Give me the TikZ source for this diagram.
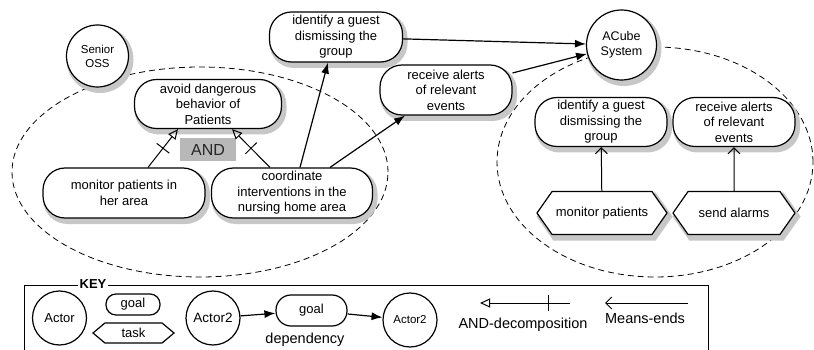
\documentclass[tikz,border=0pt]{standalone}
\usepackage{fontspec}
\setmainfont{Liberation Sans}
\usetikzlibrary{arrows.meta}
\usetikzlibrary{shapes.symbols}
\usetikzlibrary{decorations.markings}

\tikzset{
	actor/.style={circle,draw,fill=white,line width=1.2pt,align=center,inner sep=0pt},
	goal/.style={draw,fill=white,line width=1.2pt,rounded corners=22pt,align=center,inner sep=0pt},
	task/.style={signal,signal to=west and east,signal pointer angle=110,draw,fill=white,line width=1.2pt,inner sep=0pt},
	lifted/.style={preaction={draw=black!22,line width=5pt,fill=black!22,transform canvas={xshift=2.5pt,yshift=-3.5pt}}},
	txt/.style={font=\fontsize{13}{15.5}\selectfont},
	dep/.style={-{Latex[length=11pt,width=8pt]},line width=1.2pt},
	anddec/.style={-{Triangle[open,length=10pt,width=9pt]},line width=1pt},
	andtick/.style={postaction={decorate,decoration={markings,mark=at position #1 with {\draw[-,line width=1pt] (0,-8pt) -- (0,8pt);}}}},
	meansend/.style={-{Straight Barb[length=6pt,width=12pt]},line width=1pt},
	boundary/.style={dash pattern=on 6pt off 4pt,line width=0.8pt},
}

\begin{document}
\begin{tikzpicture}[x=1pt,y=-1pt]
		\useasboundingbox (0,0) rectangle (814,350);
		\draw[boundary] (200,172) ellipse [x radius=188pt,y radius=105pt];
		\draw[boundary] (655,162) ellipse [x radius=158pt,y radius=115pt];

		\node[actor,lifted,minimum size=62pt,font=\fontsize{11.5}{14}\selectfont] (senior) at (97.5,56) {Senior\\OSS};
		\node[actor,lifted,minimum size=70pt,font=\fontsize{12.5}{15}\selectfont] (acube) at (621.5,45) {ACube\\System};

		\node[goal,lifted,txt,minimum width=147pt,minimum height=49pt] (avoid) at (208,104) {avoid dangerous\\behavior of\\Patients};
		\node[goal,lifted,txt,minimum width=162pt,minimum height=50pt] (monhome) at (124,193) {monitor patients in\\her area};
		\node[goal,lifted,txt,minimum width=161pt,minimum height=50pt] (coord) at (292,193) {coordinate\\interventions in the\\nursing home area};
		\node[goal,lifted,txt,minimum width=133pt,minimum height=50pt] (identtop) at (336,37) {identify a guest\\dismissing the\\group};
		\node[goal,lifted,txt,minimum width=132pt,minimum height=50pt] (recvtop) at (446,90) {receive alerts\\of relevant\\events};
		\node[goal,lifted,txt,minimum width=132pt,minimum height=49pt] (identsys) at (601,122) {identify a guest\\dismissing the\\group};
		\node[goal,lifted,txt,minimum width=122pt,minimum height=49pt] (recvsys) at (734,122) {receive alerts\\of relevant\\events};
		\node[task,lifted,txt,minimum width=130pt,minimum height=43pt] (monsys) at (602,213) {monitor patients};
		\node[task,lifted,txt,minimum width=122pt,minimum height=43pt] (alarms) at (734,213) {send alarms};

		\node[fill=black!28,minimum width=56pt,minimum height=23pt,inner sep=0pt,text=black!85,font=\fontsize{16}{16}\selectfont] (andlbl) at (208,150) {AND};

		\draw[anddec,andtick=0.5] ([xshift=24pt]monhome.north) -- ([xshift=-30pt]avoid.south);
		\draw[anddec,andtick=0.5] ([xshift=-22pt]coord.north) -- ([xshift=24pt]avoid.south);
		\draw[dep] ([xshift=8pt]coord.north) -- ([xshift=-8pt]identtop.south);
		\draw[dep] ([xshift=38pt]coord.north) -- ([xshift=-41pt]recvtop.south);
		\draw[dep] (identtop) -- (acube);
		\draw[dep] (recvtop) -- (acube);
		\draw[meansend] (monsys) -- (identsys);
		\draw[meansend] (alarms) -- (recvsys);

		\draw[line width=0.9pt] (24,351) -- (24,285) -- (708,285) -- (708,351);
		\node[fill=white,inner sep=2pt,font=\bfseries\fontsize{13}{13}\selectfont] (keylbl) at (93,284) {KEY};
		\node[actor,minimum size=54pt,font=\fontsize{13}{15}\selectfont] (kactor) at (59.5,318) {Actor};
		\node[goal,rounded corners=10pt,minimum width=54pt,minimum height=21pt,font=\fontsize{13}{15}\selectfont] (kgoal) at (133,304.5) {goal};
		\node[task,signal pointer angle=80,minimum width=81pt,minimum height=20pt,font=\fontsize{13}{15}\selectfont] (ktask) at (133.5,333) {task};
		\node[actor,minimum size=54pt,font=\fontsize{13.5}{15}\selectfont] (kdepa) at (213,318) {Actor2};
		\node[goal,rounded corners=15pt,minimum width=71pt,minimum height=31pt,font=\fontsize{13}{15}\selectfont] (kdgoal) at (311.5,310.5) {goal};
		\node[actor,minimum size=54pt,font=\fontsize{11.5}{14}\selectfont] (kdepb) at (410,320) {Actor2};
		\node[font=\fontsize{14.5}{15}\selectfont] (kdeplbl) at (305,340) {dependency};
		\draw[dep] (kdepa) -- (kdgoal);
		\draw[dep] (kdgoal) -- (kdepb);

		\coordinate (andend) at (480,303);
		\coordinate (andstart) at (570,303);
		\draw[anddec,andtick=0.24] (andstart) -- (andend);
		\node[font=\fontsize{14.5}{15}\selectfont] (andtxt) at (523,325) {AND-decomposition};
		\coordinate (meend) at (605,303);
		\coordinate (mestart) at (688,303);
		\draw[meansend] (mestart) -- (meend);
		\node[font=\fontsize{14.5}{15}\selectfont] (metxt) at (645,318) {Means-ends};
	\end{tikzpicture}
\end{document}
